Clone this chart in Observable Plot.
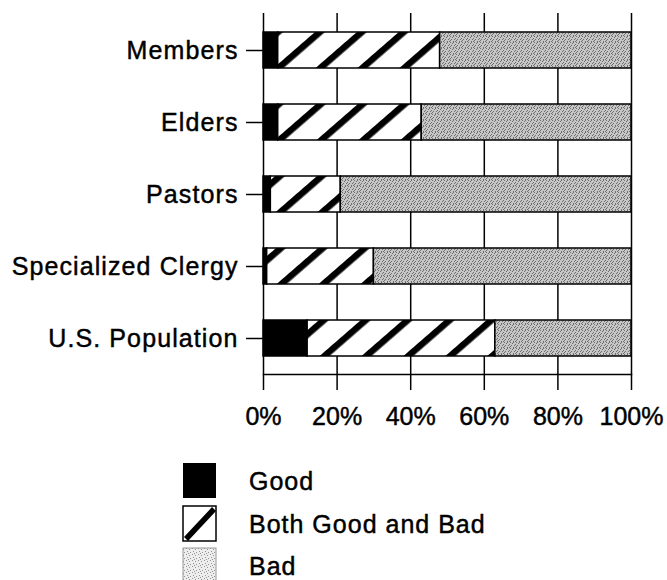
<!DOCTYPE html>
<html>
<head>
<meta charset="utf-8">
<script src="https://cdn.jsdelivr.net/npm/d3@7"></script>
<script src="https://cdn.jsdelivr.net/npm/@observablehq/plot@0.6"></script>
<style>
  html, body { margin: 0; padding: 0; background: #fff; }
  #chart svg { display: block; }
  #legend { display: block; }
</style>
</head>
<body>
<div id="chart"></div>
<div id="legend"></div>
<script>
const categories = ["Members", "Elders", "Pastors", "Specialized Clergy", "U.S. Population"];
const responses = ["Good", "Both Good and Bad", "Bad"];
const good = [4, 4, 2, 1, 12];
const both = [44, 39, 19, 29, 51];
const bad  = [52, 57, 79, 70, 37];
const xTicks = [0, 20, 40, 60, 80, 100];

const series = [good, both, bad];
const table = [];
categories.forEach((c, i) => {
  responses.forEach((r, j) => table.push({category: c, response: r, value: series[j][i]}));
});

const FONT = "'Liberation Sans', Arial, Helvetica, sans-serif";

const plot = Plot.plot({
  width: 667,
  height: 440,
  marginLeft: 263,
  marginRight: 36,
  marginTop: 13,
  marginBottom: 66,
  style: {fontFamily: FONT, fontSize: "25px", color: "black", background: "white"},
  x: {domain: [0, 100], ticks: xTicks, tickFormat: d => d + "%", label: null},
  y: {domain: categories, paddingInner: 0.5, paddingOuter: 0.25, label: null},
  color: {domain: responses, range: ["black", "url(#hatch)", "url(#dots)"]},
  marks: [
    Plot.ruleX(xTicks, {stroke: "black", strokeWidth: 1.5}),
    Plot.frame({anchor: "bottom", stroke: "black", strokeWidth: 1.5}),
    Plot.barX(table, Plot.stackX({
      x: "value", y: "category", fill: "response",
      stroke: "black", strokeWidth: 1.5
    })),
    Plot.axisX({ticks: xTicks, tickFormat: d => d + "%", tickSize: 16, tickPadding: 17,
      strokeWidth: 1.5, fontSize: 25, label: null}),
    Plot.axisY({tickSize: 17, tickPadding: 8, strokeWidth: 1.5, fontSize: 25, label: null})
  ]
});

// patterns
const svg = d3.select(plot);
const defs = svg.insert("defs", ":first-child");
const hatch = defs.append("pattern")
  .attr("id", "hatch")
  .attr("patternUnits", "userSpaceOnUse")
  .attr("width", 27.5).attr("height", 27.5)
  .attr("patternTransform", "translate(268,0) rotate(49)");
hatch.append("rect").attr("width", 27.5).attr("height", 27.5).attr("fill", "white");
hatch.append("rect").attr("x", 0).attr("width", 6.5).attr("height", 27.5).attr("fill", "black");

const dots = defs.append("pattern")
  .attr("id", "dots")
  .attr("patternUnits", "userSpaceOnUse")
  .attr("width", 6).attr("height", 6);
dots.append("rect").attr("width", 6).attr("height", 6).attr("fill", "#c6c6c6");
[[0,0],[3,0],[2,1],[5,2],[1,3],[4,3],[0,4],[3,5],[5,5]].forEach(([x, y]) =>
  dots.append("rect").attr("x", x).attr("y", y).attr("width", 1).attr("height", 1).attr("fill", "#6e6e6e"));

const lightDots = defs.append("pattern")
  .attr("id", "lightdots")
  .attr("patternUnits", "userSpaceOnUse")
  .attr("width", 6).attr("height", 6);
lightDots.append("rect").attr("width", 6).attr("height", 6).attr("fill", "#ededed");
[[0,0],[3,1],[1,3],[4,4],[2,5]].forEach(([x, y]) =>
  lightDots.append("rect").attr("x", x).attr("y", y).attr("width", 1).attr("height", 1).attr("fill", "#949494"));

svg.selectAll("g[aria-label='y-axis tick label'] text, g[aria-label='y-axis tick label']")
  .style("letter-spacing", "1.1px");
svg.selectAll("text").style("stroke", "black").style("stroke-width", "0.45px");
document.getElementById("chart").appendChild(plot);

// legend
const leg = d3.select("#legend").append("svg")
  .attr("width", 667).attr("height", 140)
  .style("font-family", FONT).style("font-size", "25px");
const rowY = [23, 66, 108];
const swX = 183, swW = 33, swH = 35;
responses.forEach((r, i) => {
  const g = leg.append("g").attr("transform", `translate(0,${rowY[i]})`);
  if (i === 0) {
    g.append("rect").attr("x", swX).attr("y", 0).attr("width", swW).attr("height", swH).attr("fill", "black");
  } else if (i === 1) {
    g.append("rect").attr("x", swX).attr("y", 0).attr("width", swW).attr("height", swH)
      .attr("fill", "white").attr("stroke", "black").attr("stroke-width", 1.5);
    g.append("line").attr("x1", swX + 3).attr("y1", swH - 2).attr("x2", swX + swW - 2).attr("y2", 3)
      .attr("stroke", "black").attr("stroke-width", 5.5);
  } else {
    g.append("rect").attr("x", swX).attr("y", 0).attr("width", swW).attr("height", swH)
      .attr("fill", "url(#lightdots)").attr("stroke", "#999").attr("stroke-width", 1);
  }
  g.append("text").attr("x", 249).attr("y", swH / 2).attr("dy", "0.36em")
    .style("letter-spacing", "1px").style("stroke", "black").style("stroke-width", "0.45px").text(r);
});
</script>
</body>
</html>
